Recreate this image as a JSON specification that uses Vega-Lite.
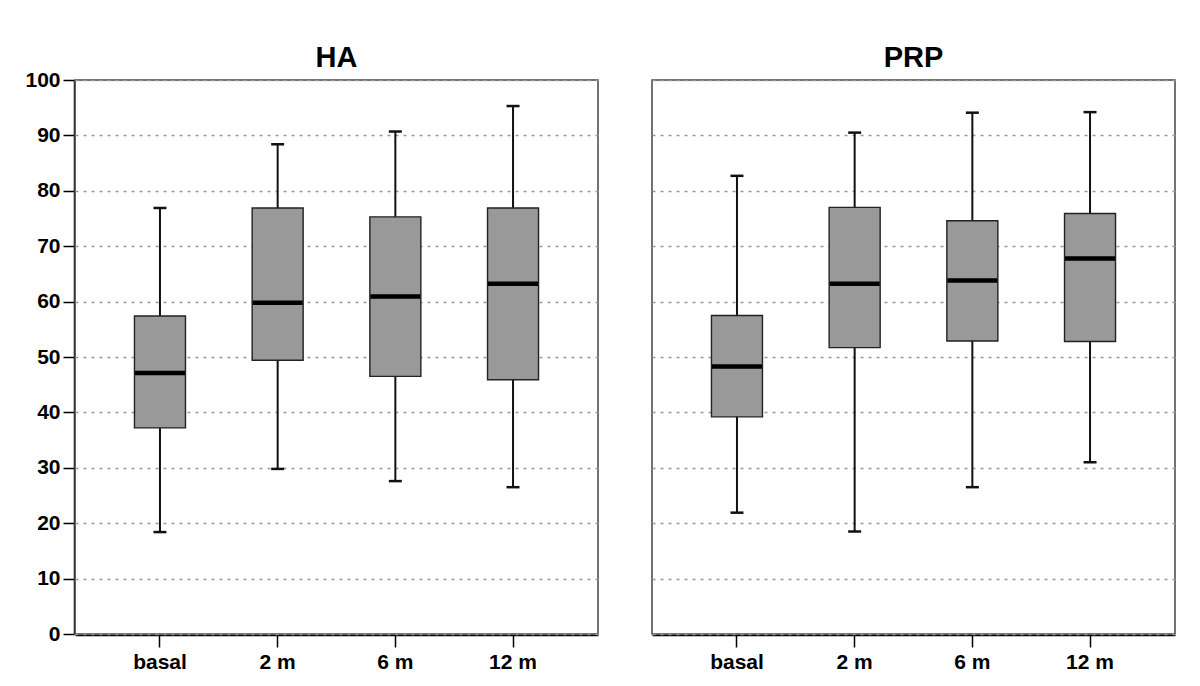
{
  "$schema": "https://vega.github.io/schema/vega-lite/v6.json",
  "padding": {"left": 24, "top": 44, "right": 0, "bottom": 0},
  "background": "white",
  "data": {"values": [
    {"group": "HA", "time": "basal", "min": 18.4, "q1": 37.2, "median": 47.1, "q3": 57.4, "max": 76.9},
    {"group": "HA", "time": "2 m", "min": 29.8, "q1": 49.4, "median": 59.8, "q3": 76.9, "max": 88.4},
    {"group": "HA", "time": "6 m", "min": 27.6, "q1": 46.5, "median": 60.9, "q3": 75.3, "max": 90.7},
    {"group": "HA", "time": "12 m", "min": 26.5, "q1": 45.9, "median": 63.2, "q3": 76.9, "max": 95.3},
    {"group": "PRP", "time": "basal", "min": 21.9, "q1": 39.2, "median": 48.3, "q3": 57.5, "max": 82.7},
    {"group": "PRP", "time": "2 m", "min": 18.5, "q1": 51.7, "median": 63.2, "q3": 77.0, "max": 90.5},
    {"group": "PRP", "time": "6 m", "min": 26.5, "q1": 52.9, "median": 63.8, "q3": 74.6, "max": 94.1},
    {"group": "PRP", "time": "12 m", "min": 31.0, "q1": 52.8, "median": 67.8, "q3": 75.9, "max": 94.2}
  ]},
  "facet": {
    "column": {
      "field": "group", "type": "nominal", "sort": ["HA", "PRP"],
      "header": {"title": null, "labelFontSize": 29, "labelFontWeight": "bold", "labelFont": "Liberation Sans", "labelColor": "black", "labelPadding": 6}
    }
  },
  "spacing": 52,
  "spec": {
    "width": 523,
    "height": 554,
    "encoding": {
      "x": {
        "field": "time", "type": "nominal", "sort": ["basal", "2 m", "6 m", "12 m"],
        "scale": {"type": "band", "paddingInner": 0, "paddingOuter": 0.222},
        "axis": {"title": null, "labelAngle": 0, "tickSize": 12, "tickColor": "black", "tickWidth": 1.5, "domainColor": "black", "domainWidth": 1.5, "labelFont": "Liberation Sans", "labelFontSize": 21, "labelFontWeight": "bold", "labelColor": "black", "labelPadding": 4}
      }
    },
    "layer": [
      {
        "mark": {"type": "rule", "color": "#111", "strokeWidth": 2},
        "encoding": {
          "y": {
            "field": "min", "type": "quantitative",
            "scale": {"domain": [0, 100], "nice": false},
            "axis": {"title": null, "values": [0, 10, 20, 30, 40, 50, 60, 70, 80, 90, 100], "grid": true, "gridDash": [3, 5], "gridColor": "#999", "gridWidth": 1.5, "tickSize": 11, "tickColor": "black", "tickWidth": 1.5, "domainColor": "black", "domainWidth": 1.5, "labelFont": "Liberation Sans", "labelFontSize": 21, "labelFontWeight": "bold", "labelColor": "black", "labelPadding": 3}
          },
          "y2": {"field": "max"}
        }
      },
      {
        "mark": {"type": "bar", "size": 51, "fill": "#999999", "stroke": "#222", "strokeWidth": 1.4},
        "encoding": {
          "y": {"field": "q1", "type": "quantitative"},
          "y2": {"field": "q3"}
        }
      },
      {
        "mark": {"type": "tick", "size": 50, "thickness": 4.5, "color": "black", "opacity": 1},
        "encoding": {"y": {"field": "median", "type": "quantitative"}}
      },
      {
        "mark": {"type": "tick", "size": 13, "thickness": 2.5, "color": "#111", "opacity": 1},
        "encoding": {"y": {"field": "min", "type": "quantitative"}}
      },
      {
        "mark": {"type": "tick", "size": 13, "thickness": 2.5, "color": "#111", "opacity": 1},
        "encoding": {"y": {"field": "max", "type": "quantitative"}}
      }
    ]
  },
  "config": {
    "view": {"stroke": "#444", "strokeWidth": 1.5},
    "axis": {"ticks": true}
  }
}
